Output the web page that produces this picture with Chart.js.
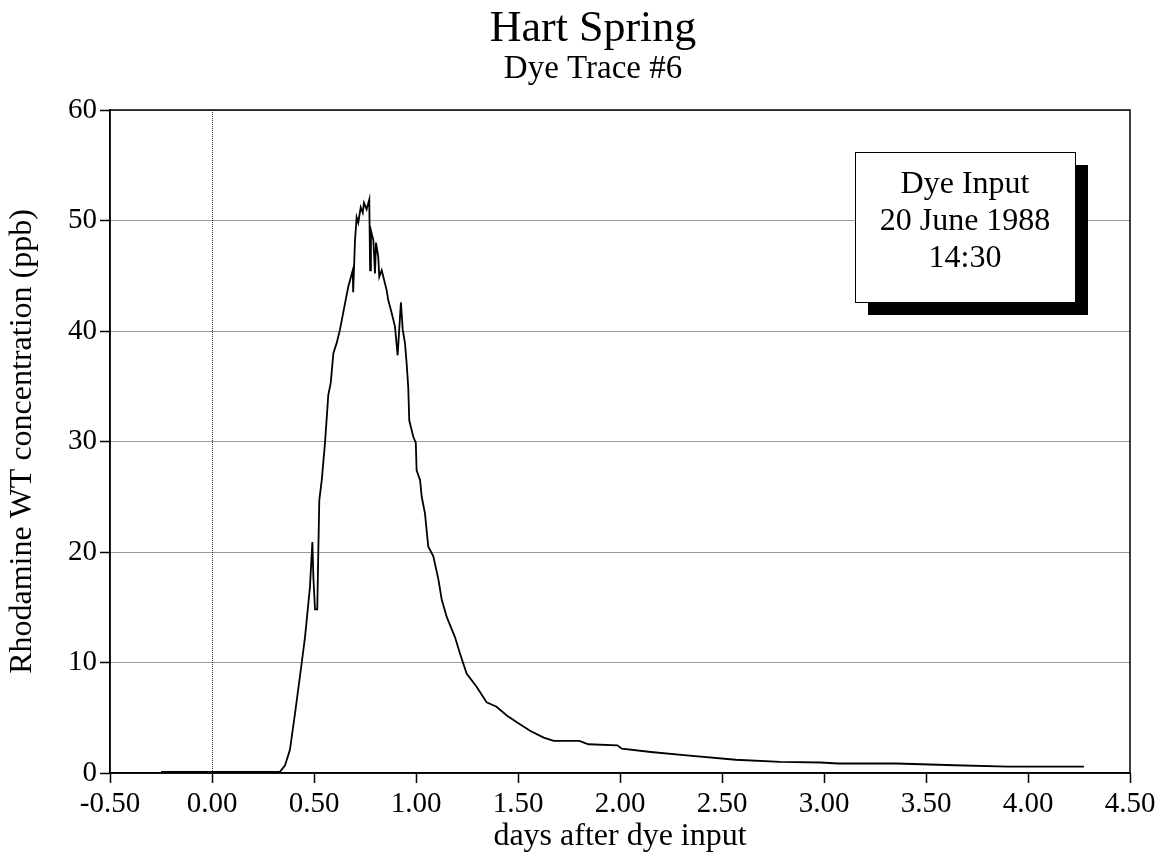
<!DOCTYPE html>
<html>
<head>
<meta charset="utf-8">
<script src="https://cdn.jsdelivr.net/npm/chart.js@4/dist/chart.umd.min.js"></script>
<style>
  html, body { margin: 0; padding: 0; background: #fff; }
  canvas { display: block; }
</style>
</head>
<body>
<canvas id="trace" width="1168" height="862"></canvas>
<script>
const days = [
    -0.25, 0.00, 0.20, 0.333, 0.358, 0.382, 0.407, 0.44, 0.456, 0.48,
    0.492, 0.497, 0.505, 0.516, 0.521, 0.526, 0.538, 0.554, 0.570, 0.582,
    0.595, 0.611, 0.627, 0.652, 0.668, 0.690, 0.692, 0.701, 0.709, 0.717,
    0.729, 0.739, 0.745, 0.758, 0.771, 0.775, 0.779, 0.791, 0.799, 0.804,
    0.815, 0.820, 0.832, 0.848, 0.856, 0.864, 0.881, 0.897, 0.910, 0.926,
    0.935, 0.946, 0.954, 0.962, 0.967, 0.987, 0.999, 1.003, 1.020, 1.028,
    1.044, 1.060, 1.085, 1.110, 1.126, 1.151, 1.191, 1.216, 1.248, 1.297,
    1.346, 1.395, 1.445, 1.502, 1.561, 1.626, 1.675, 1.801, 1.845, 1.987,
    2.009, 2.151, 2.327, 2.567, 2.786, 2.983, 3.07, 3.355, 3.640, 3.902,
    4.274,
];
const ppb = [
    0.1, 0.1, 0.1, 0.1, 0.7, 2.1, 5.4, 10.0, 12.3, 16.8,
    20.9, 17.7, 14.8, 14.8, 19.9, 24.7, 26.5, 29.9, 34.2, 35.3,
    38.0, 38.9, 40.1, 42.5, 44.0, 45.5, 43.5, 48.2, 50.3, 49.8,
    51.2, 50.7, 51.6, 51.0, 51.9, 45.5, 49.1, 48.2, 45.2, 48.0,
    46.7, 44.9, 45.5, 44.3, 43.7, 42.8, 41.6, 40.4, 37.8, 42.6,
    40.1, 38.9, 37.1, 34.9, 31.9, 30.4, 29.9, 27.4, 26.5, 25.0,
    23.5, 20.5, 19.6, 17.5, 15.7, 14.1, 12.3, 10.8, 9.0, 7.8,
    6.4, 6.0, 5.2, 4.5, 3.8, 3.2, 2.9, 2.9, 2.6, 2.5,
    2.2, 1.9, 1.6, 1.2, 1.0, 0.95, 0.86, 0.86, 0.7, 0.57,
    0.57,
];
const noteLines = ["Dye Input", "20 June 1988", "14:30"];

const serif = "'Liberation Serif', 'Times New Roman', serif";
Chart.defaults.color = "#000";
Chart.defaults.font.family = serif;

// the page title sits a bit right of the canvas centre
const titleShift = {
    id: "titleShift",
    afterLayout(chart) {
        chart.boxes.forEach((b) => {
            if (!b.axis && b.options && typeof b.options.text === "string") {
                b.left = 56;
            }
        });
    },
};

// frame around the plot area plus the shadowed note box
const framePlugin = {
    id: "frame",
    afterDatasetsDraw(chart) {
        const { ctx, chartArea: a } = chart;
        ctx.save();
        ctx.strokeStyle = "#000";
        ctx.lineWidth = 1.5;
        ctx.strokeRect(a.left, a.top, a.right - a.left, a.bottom - a.top);

        const bx = a.right - 275, by = a.top + 42, bw = 220, bh = 150;
        ctx.fillStyle = "#000";
        ctx.fillRect(bx + 13, by + 13, bw, bh);
        ctx.fillStyle = "#fff";
        ctx.fillRect(bx, by, bw, bh);
        ctx.lineWidth = 1;
        ctx.strokeRect(bx + 0.5, by + 0.5, bw, bh);
        ctx.fillStyle = "#000";
        ctx.font = "32px " + serif;
        ctx.textAlign = "center";
        ctx.textBaseline = "middle";
        noteLines.forEach((t, i) => ctx.fillText(t, bx + bw / 2, by + 33 + i * 37));
        ctx.restore();
    },
};

new Chart(document.getElementById("trace"), {
    type: "line",
    data: {
        datasets: [
            {
                data: days.map((d, i) => ({ x: d, y: ppb[i] })),
                borderColor: "#000",
                borderWidth: 1.8,
                pointRadius: 0,
                tension: 0,
                fill: false,
            },
        ],
    },
    options: {
        responsive: false,
        animation: false,
        devicePixelRatio: 1,
        layout: {
            padding: { left: 0, right: 38, top: 0, bottom: 0 },
        },
        plugins: {
            legend: { display: false },
            tooltip: { enabled: false },
            title: {
                display: true, text: "Hart Spring",
                padding: { top: 7, bottom: 1.5 },
                font: { size: 44, weight: "normal", lineHeight: 1 },
            },
            subtitle: {
                display: true, text: "Dye Trace #6",
                color: "#000",
                padding: { top: 0, bottom: 24.5 },
                font: { size: 33, weight: "normal", lineHeight: 1 },
            },
        },
        scales: {
            x: {
                type: "linear",
                min: -0.5,
                max: 4.5,
                afterFit(scale) { scale.height = 89; },
                ticks: {
                    stepSize: 0.5,
                    padding: 4,
                    maxRotation: 0,
                    font: { size: 29 },
                    callback: (v) => v.toFixed(2),
                },
                grid: {
                    color: (c) => (c.tick && c.tick.value === 0 ? "#333" : "rgba(0,0,0,0)"),
                    tickColor: "#000",
                    tickLength: 10,
                    tickWidth: 1.5,
                    tickBorderDash: [],
                },
                border: { color: "#000", width: 1.5, dash: [1, 1] },
                title: {
                    display: true, text: "days after dye input",
                    padding: { top: 2, bottom: 6 },
                    font: { size: 32 },
                },
            },
            y: {
                min: 0,
                max: 60,
                afterFit(scale) { scale.width = 110; },
                ticks: {
                    stepSize: 10,
                    padding: 3,
                    font: { size: 29 },
                },
                grid: {
                    color: "#333",
                    tickColor: "#000",
                    tickLength: 10,
                    tickWidth: 1.5,
                    tickBorderDash: [],
                },
                border: { color: "#000", width: 1.5, dash: [1, 1] },
                title: {
                    display: true, text: "Rhodamine WT concentration (ppb)",
                    padding: { top: 3, bottom: 0 },
                    font: { size: 32 },
                },
            },
        },
    },
    plugins: [titleShift, framePlugin],
});
</script>
</body>
</html>
